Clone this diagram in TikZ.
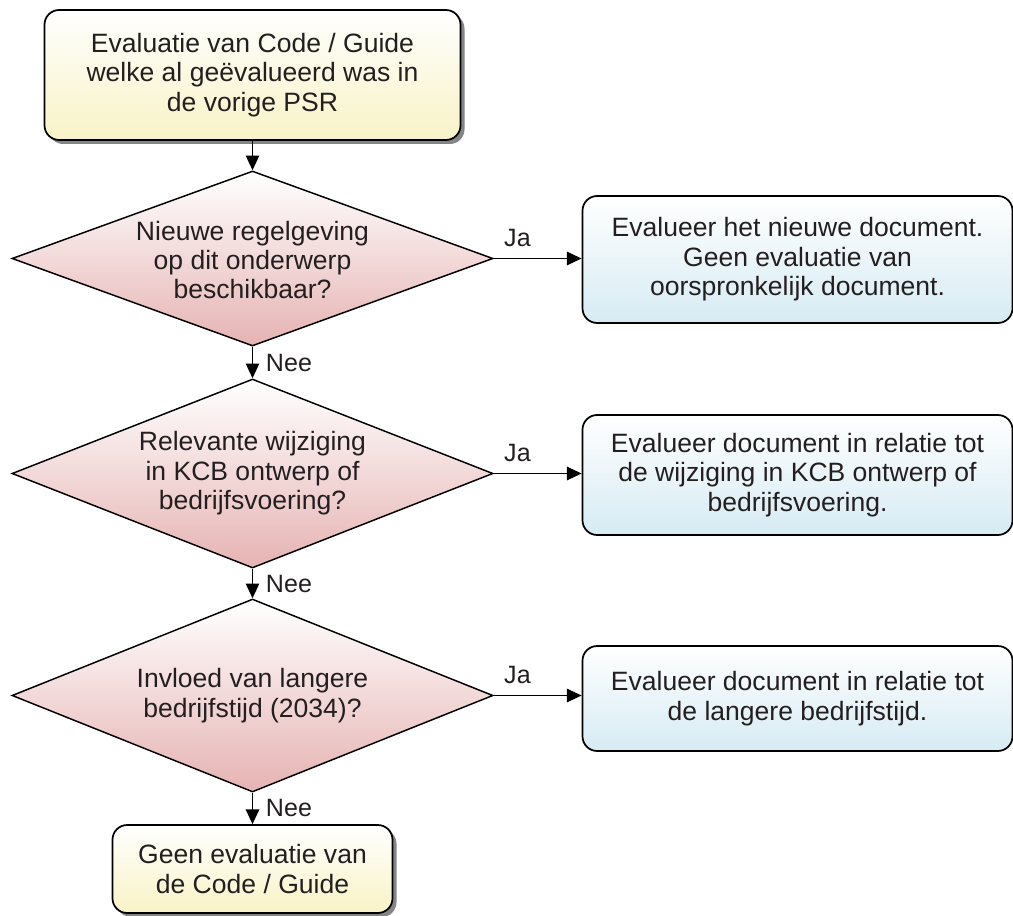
\documentclass[tikz,border=0pt]{standalone}
\usepackage{fontspec}
\setmainfont{Liberation Sans}
\usetikzlibrary{shapes.geometric,arrows.meta,shadows}
\definecolor{txt}{HTML}{231F20}
\definecolor{yelB}{HTML}{F8F3C6}
\definecolor{redB}{HTML}{E6B3B3}
\definecolor{bluB}{HTML}{D6EBF3}
\definecolor{shd}{HTML}{858585}
\begin{document}
\begin{tikzpicture}[x=0.75pt,y=-0.75pt,
  every node/.style={text=txt},
  boxtext/.style={font=\fontsize{19.9pt}{22.1pt}\selectfont, align=center},
  yelbox/.style={rectangle, rounded corners=11pt, draw=black, line width=1.3pt,
    top color=white, bottom color=yelB,
    drop shadow={shadow xshift=3pt, shadow yshift=-3pt, fill=shd, opacity=1}, boxtext},
  blubox/.style={rectangle, rounded corners=11pt, draw=black, line width=1.3pt,
    top color=white, bottom color=bluB, boxtext},
  decision/.style={diamond, draw=black, line width=1.1pt, top color=white,
    bottom color=redB, inner sep=0pt},
  arr/.style={draw=black, line width=1.2pt, -{Triangle[length=11pt,width=10pt]}},
  lbl/.style={font=\fontsize{18.8pt}{20pt}\selectfont, inner sep=0pt}
]
\useasboundingbox (0,0) rectangle (1013,916);

% start box
\node[yelbox, minimum width=312pt, minimum height=97.5pt] (top) at (252.5,75)
  {Evaluatie van Code / Guide\\welke al geëvalueerd was in\\de vorige PSR};

% decisions
\node[decision, minimum width=360.75pt, minimum height=131.25pt] (d1) at (252.5,258.5) {};
\node[boxtext] (d1t) at (252.5,260) {Nieuwe regelgeving\\op dit onderwerp\\beschikbaar?};

\node[decision, minimum width=360.75pt, minimum height=141.75pt] (d2) at (252.5,473.5) {};
\node[boxtext] (d2t) at (d2) {Relevante wijziging\\in KCB ontwerp of\\bedrijfsvoering?};

\node[decision, minimum width=360.75pt, minimum height=144.75pt] (d3) at (252.5,695.5) {};
\node[boxtext] (d3t) at (d3) {Invloed van langere\\bedrijfstijd (2034)?};

% action boxes
\node[blubox, minimum width=322.5pt, minimum height=95.25pt] (b1) at (797.5,259.5)
  {Evalueer het nieuwe document.\\Geen evaluatie van\\oorspronkelijk document.};
\node[blubox, minimum width=322.5pt, minimum height=90pt] (b2) at (797.5,475)
  {Evalueer document in relatie tot\\de wijziging in KCB ontwerp of\\bedrijfsvoering.};
\node[blubox, minimum width=322.5pt, minimum height=78.75pt] (b3) at (797.5,698.5)
  {Evalueer document in relatie tot\\de langere bedrijfstijd.};

% end box
\node[yelbox, minimum width=210pt, minimum height=66pt] (end) at (252.5,869)
  {Geen evaluatie van\\de Code / Guide};

% connectors
\draw[arr] (top.south) -- (d1.north);
\draw[arr] (d1.east) -- node[lbl, above=8pt, pos=0.27] {Ja} (d1.east -| b1.west);
\draw[arr] (d2.east) -- node[lbl, above=8pt, pos=0.27] {Ja} (d2.east -| b2.west);
\draw[arr] (d3.east) -- node[lbl, above=8pt, pos=0.27] {Ja} (d3.east -| b3.west);
\draw[arr] (d1.south) -- node[lbl, right=9.5pt, midway] {Nee} (d2.north);
\draw[arr] (d2.south) -- node[lbl, right=9.5pt, midway] {Nee} (d3.north);
\draw[arr] (d3.south) -- node[lbl, right=9.5pt, midway] {Nee} (end.north);
\end{tikzpicture}
\end{document}
